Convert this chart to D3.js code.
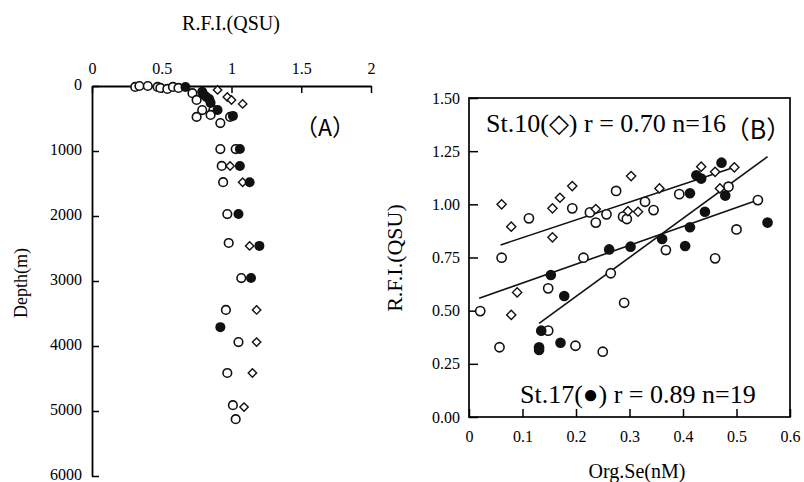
<!DOCTYPE html>
<html>
<head>
<meta charset="utf-8">
<script src="https://cdn.jsdelivr.net/npm/d3@7"></script>
<style>
  body { margin: 0; background: #fff; }
  svg { display: block; }
  .serif { font-family: "Liberation Serif", "Times New Roman", serif; }
</style>
</head>
<body>
<div id="chart"></div>
<script>
// Panel A: depth profiles, [R.F.I., depth in m]
var profileOpen = [
  [0.31, 15], [0.34, 0], [0.40, 0], [0.47, 15], [0.49, 30], [0.54, 45], [0.58, 15],
  [0.62, 30], [0.72, 110], [0.75, 215], [0.79, 370], [0.87, 370], [0.75, 475],
  [0.85, 445], [0.92, 570], [0.99, 475],
  [0.92, 970], [1.03, 970], [0.93, 1230], [0.94, 1480], [0.97, 1970], [0.98, 2415],
  [1.07, 2955], [0.96, 3445], [1.05, 3940], [0.97, 4415], [1.01, 4910], [1.03, 5125]
];
var profileFilled = [
  [0.67, 15], [0.79, 90], [0.80, 130], [0.82, 170], [0.84, 200], [0.85, 260],
  [0.90, 370], [1.01, 460],
  [1.06, 970], [1.06, 1230], [1.13, 1480], [1.05, 1970], [1.20, 2460], [1.14, 2955],
  [0.92, 3710]
];
var profileDiamond = [
  [0.90, 60], [0.97, 170], [1.00, 215], [1.08, 275],
  [0.99, 1230], [1.08, 1480], [1.13, 2460], [1.18, 3445], [1.18, 3940],
  [1.15, 4415], [1.09, 4940]
];
var rfiTicksA = [0, 0.5, 1, 1.5, 2];
var depthTicks = [0, 1000, 2000, 3000, 4000, 5000, 6000];

// Panel B: [Org.Se (nM), R.F.I.]
var scatterDiamond = [
  [0.061, 1.00], [0.079, 0.895], [0.156, 0.981], [0.170, 1.031], [0.193, 1.086],
  [0.156, 0.845], [0.237, 0.978], [0.303, 1.133], [0.297, 0.968], [0.356, 1.075],
  [0.316, 0.965], [0.434, 1.177], [0.460, 1.153], [0.496, 1.174], [0.469, 1.075],
  [0.090, 0.586], [0.079, 0.480]
];
var scatterFilled = [
  [0.153, 0.668], [0.262, 0.788], [0.302, 0.801], [0.361, 0.837], [0.404, 0.804],
  [0.413, 0.892], [0.441, 0.965], [0.479, 1.041], [0.413, 1.052], [0.425, 1.137],
  [0.434, 1.121], [0.472, 1.196], [0.558, 0.914], [0.178, 0.569], [0.135, 0.406],
  [0.131, 0.328], [0.131, 0.315], [0.171, 0.349]
];
var scatterOpen = [
  [0.112, 0.934], [0.193, 0.981], [0.061, 0.749], [0.226, 0.962], [0.237, 0.914],
  [0.257, 0.953], [0.275, 1.063], [0.288, 0.942], [0.295, 0.931], [0.214, 0.749],
  [0.265, 0.676], [0.329, 1.012], [0.345, 0.973], [0.393, 1.048], [0.485, 1.083],
  [0.540, 1.020], [0.500, 0.882], [0.368, 0.785], [0.460, 0.746], [0.021, 0.498],
  [0.057, 0.328], [0.148, 0.605], [0.290, 0.537], [0.148, 0.406], [0.199, 0.335],
  [0.250, 0.307]
];
// regression segments: [[x0, y0], [x1, y1]]
var fitLines = [
  [[0.059, 0.809], [0.496, 1.174]],
  [[0.019, 0.558], [0.540, 1.020]],
  [[0.131, 0.440], [0.558, 1.224]]
];
var seTicks = [0, 0.1, 0.2, 0.3, 0.4, 0.5, 0.6];
var rfiTicksB = [0, 0.25, 0.5, 0.75, 1.0, 1.25, 1.5];

var W = 804, H = 482;
var svg = d3.select('#chart').append('svg')
  .attr('width', W).attr('height', H)
  .attr('class', 'serif');

function diamondPath(r) {
  return 'M0,' + (-r) + 'L' + r + ',0L0,' + r + 'L' + (-r) + ',0Z';
}

/* ---------- panel A ---------- */
var ax = d3.scaleLinear().domain([0, 2]).range([92, 371]);
var ay = d3.scaleLinear().domain([0, 6000]).range([86, 476]);
var gA = svg.append('g');

gA.append('g')
  .attr('transform', 'translate(0,86)')
  .call(d3.axisTop(ax).tickValues(rfiTicksA).tickSizeInner(-7).tickSizeOuter(0).tickPadding(12)
    .tickFormat(function (d) { return d3.format('')(d); }))
  .call(function (g) {
    g.select('.domain').attr('stroke-width', 1.8);
    g.selectAll('.tick line').attr('stroke-width', 1.5);
    g.selectAll('text').attr('font-size', 16).attr('font-family', 'Liberation Serif');
  });

gA.append('g')
  .attr('transform', 'translate(92,0)')
  .call(d3.axisLeft(ay).tickValues(depthTicks).tickSizeInner(-7).tickSizeOuter(0).tickPadding(10)
    .tickFormat(d3.format('d')))
  .call(function (g) {
    g.select('.domain').attr('stroke-width', 1.8);
    g.selectAll('.tick line').attr('stroke-width', 1.5);
    g.selectAll('text').attr('font-size', 16).attr('font-family', 'Liberation Serif')
      .attr('dy', '0.22em');
  });

gA.append('text').attr('x', 231).attr('y', 30).attr('text-anchor', 'middle')
  .attr('font-size', 20).text('R.F.I.(QSU)');
gA.append('text').attr('transform', 'translate(27,283) rotate(-90)')
  .attr('text-anchor', 'middle').attr('font-size', 18).text('Depth(m)');
gA.append('text').attr('x', 325).attr('y', 136).attr('text-anchor', 'middle')
  .attr('font-family', 'Noto Sans CJK SC').attr('font-size', 23).text('（A）');

gA.append('g').selectAll('circle').data(profileOpen).enter().append('circle')
  .attr('cx', function (d) { return ax(d[0]); })
  .attr('cy', function (d) { return ay(d[1]); })
  .attr('r', 4.3).attr('fill', '#fff').attr('stroke', '#111').attr('stroke-width', 1.6);
gA.append('g').selectAll('path').data(profileDiamond).enter().append('path')
  .attr('transform', function (d) { return 'translate(' + ax(d[0]) + ',' + ay(d[1]) + ')'; })
  .attr('d', diamondPath(4.2)).attr('fill', '#fff').attr('stroke', '#111').attr('stroke-width', 1.4);
gA.append('g').selectAll('circle').data(profileFilled).enter().append('circle')
  .attr('cx', function (d) { return ax(d[0]); })
  .attr('cy', function (d) { return ay(d[1]); })
  .attr('r', 5).attr('fill', '#111');

/* ---------- panel B ---------- */
var bx = d3.scaleLinear().domain([0, 0.6]).range([469, 790]);
var by = d3.scaleLinear().domain([0, 1.5]).range([417, 98]);
var gB = svg.append('g');

gB.append('rect').attr('x', 469).attr('y', 98).attr('width', 790 - 469).attr('height', 417 - 98)
  .attr('fill', 'none').attr('stroke', '#111').attr('stroke-width', 1.8);

gB.append('g')
  .attr('transform', 'translate(0,417)')
  .call(d3.axisBottom(bx).tickValues(seTicks).tickSizeInner(-8).tickSizeOuter(0).tickPadding(14)
    .tickFormat(function (d) { return d3.format('')(d); }))
  .call(function (g) {
    g.select('.domain').remove();
    g.selectAll('.tick line').attr('stroke-width', 1.5);
    g.selectAll('text').attr('font-size', 16).attr('font-family', 'Liberation Serif');
  });

gB.append('g')
  .attr('transform', 'translate(469,0)')
  .call(d3.axisLeft(by).tickValues(rfiTicksB).tickSizeInner(-9).tickSizeOuter(0).tickPadding(9)
    .tickFormat(d3.format('.2f')))
  .call(function (g) {
    g.select('.domain').remove();
    g.selectAll('.tick line').attr('stroke-width', 1.5);
    g.selectAll('text').attr('font-size', 16).attr('font-family', 'Liberation Serif');
  });

gB.append('text').attr('x', 637).attr('y', 478).attr('text-anchor', 'middle')
  .attr('font-size', 20).text('Org.Se(nM)');
gB.append('text').attr('transform', 'translate(402,258) rotate(-90)')
  .attr('text-anchor', 'middle').attr('font-size', 22).text('R.F.I.(QSU)');

var line = d3.line().x(function (d) { return bx(d[0]); }).y(function (d) { return by(d[1]); });
gB.append('g').selectAll('path').data(fitLines).enter().append('path')
  .attr('d', line).attr('fill', 'none').attr('stroke', '#111').attr('stroke-width', 1.6);

gB.append('g').selectAll('circle').data(scatterOpen).enter().append('circle')
  .attr('cx', function (d) { return bx(d[0]); })
  .attr('cy', function (d) { return by(d[1]); })
  .attr('r', 4.6).attr('fill', '#fff').attr('stroke', '#111').attr('stroke-width', 1.6);
gB.append('g').selectAll('path').data(scatterDiamond).enter().append('path')
  .attr('transform', function (d) { return 'translate(' + bx(d[0]) + ',' + by(d[1]) + ')'; })
  .attr('d', diamondPath(4.6)).attr('fill', '#fff').attr('stroke', '#111').attr('stroke-width', 1.4);
gB.append('g').selectAll('circle').data(scatterFilled).enter().append('circle')
  .attr('cx', function (d) { return bx(d[0]); })
  .attr('cy', function (d) { return by(d[1]); })
  .attr('r', 5.3).attr('fill', '#111');

gB.append('text').attr('x', 486).attr('y', 132).attr('font-size', 26)
  .text('St.10(◇) r = 0.70 n=16');
gB.append('text').attr('x', 758).attr('y', 139).attr('text-anchor', 'middle')
  .attr('font-family', 'Noto Sans CJK SC').attr('font-size', 25).text('（B）');
gB.append('text').attr('x', 520).attr('y', 403).attr('font-size', 26)
  .text('St.17(●) r = 0.89 n=19');
</script>
</body>
</html>
